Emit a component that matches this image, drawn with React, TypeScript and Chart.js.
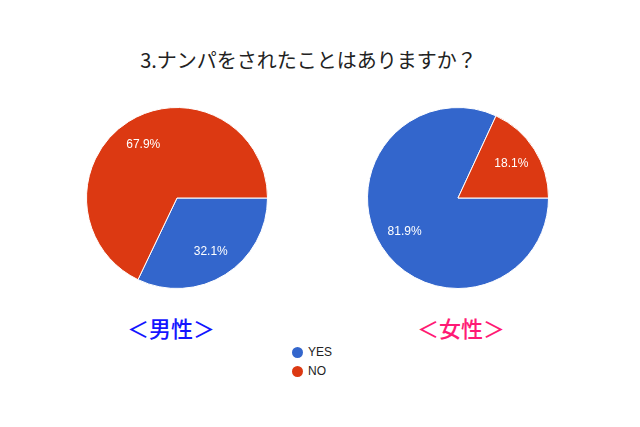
import { useEffect, useRef } from "react";
import Chart from "chart.js/auto";

const title = "3.ナンパをされたことはありますか？";
const categories = ["YES", "NO"];
const maleValues = [32.1, 67.9];
const femaleValues = [81.9, 18.1];
const colors = ["#3366cc", "#dc3912"];

const sliceLabels = {
  id: "sliceLabels",
  afterDatasetsDraw(chart: any) {
    const { ctx } = chart;
    const meta = chart.getDatasetMeta(0);
    const values = chart.data.datasets[0].data as number[];
    ctx.save();
    ctx.fillStyle = "#ffffff";
    ctx.font = "12px 'Liberation Sans', Arial, sans-serif";
    ctx.textAlign = "center";
    ctx.textBaseline = "middle";
    meta.data.forEach((arc: any, i: number) => {
      const { x, y, startAngle, endAngle, outerRadius } = arc.getProps(
        ["x", "y", "startAngle", "endAngle", "outerRadius"],
        true
      );
      const mid = (startAngle + endAngle) / 2;
      const r = outerRadius * 0.7;
      ctx.fillText(values[i].toFixed(1) + "%", x + Math.cos(mid) * r, y + Math.sin(mid) * r);
    });
    ctx.restore();
  },
};

const Pie = ({ values, left }: { values: number[]; left: number }) => {
  const canvasRef = useRef<HTMLCanvasElement>(null);

  useEffect(() => {
    if (!canvasRef.current) return;
    const ctx = canvasRef.current.getContext("2d");
    if (!ctx) return;
    const pie = new Chart(ctx, {
      type: "pie",
      data: {
        labels: categories,
        datasets: [
          {
            data: values,
            backgroundColor: colors,
            borderColor: "#ffffff",
            borderWidth: 1,
          },
        ],
      },
      options: {
        animation: false,
        responsive: false,
        rotation: 90,
        layout: { padding: 0 },
        plugins: {
          legend: { display: false },
          tooltip: { enabled: false },
        },
      },
      plugins: [sliceLabels],
    });

    return () => {
      pie.destroy();
    };
  }, [values]);

  return (
    <canvas
      ref={canvasRef}
      width={182}
      height={182}
      style={{ position: "absolute", left, top: 107, width: 182, height: 182 }}
    ></canvas>
  );
};

const App = () => {
  return (
    <div
      style={{
        position: "fixed",
        left: 0,
        top: 0,
        width: 640,
        height: 427,
        background: "#ffffff",
        fontFamily: "'Noto Sans CJK JP', sans-serif",
      }}
    >
      <div
        style={{
          position: "absolute",
          left: 0,
          width: 617,
          top: 45,
          textAlign: "center",
          fontSize: 20,
          lineHeight: "30px",
          color: "#222222",
        }}
      >
        {title}
      </div>
      <Pie values={maleValues} left={86} />
      <Pie values={femaleValues} left={367} />
      <div
        style={{
          position: "absolute",
          left: 127,
          top: 310,
          fontSize: 22,
          fontWeight: 500,
          lineHeight: "34px",
          color: "#1515ff",
        }}
      >
        ＜男性＞
      </div>
      <div
        style={{
          position: "absolute",
          left: 417,
          top: 310,
          fontSize: 22,
          fontWeight: 500,
          lineHeight: "34px",
          color: "#ff1a75",
        }}
      >
        ＜女性＞
      </div>
      {categories.map((c, i) => (
        <div
          key={c}
          style={{
            position: "absolute",
            left: 292,
            top: 344 + i * 19,
            height: 16,
            display: "flex",
            alignItems: "center",
            fontFamily: "'Liberation Sans', Arial, sans-serif",
            fontSize: 12,
            color: "#222222",
          }}
        >
          <span
            style={{
              display: "inline-block",
              width: 11,
              height: 11,
              borderRadius: "50%",
              background: colors[i],
              marginRight: 5,
            }}
          ></span>
          {c}
        </div>
      ))}
    </div>
  );
};

export default App;
